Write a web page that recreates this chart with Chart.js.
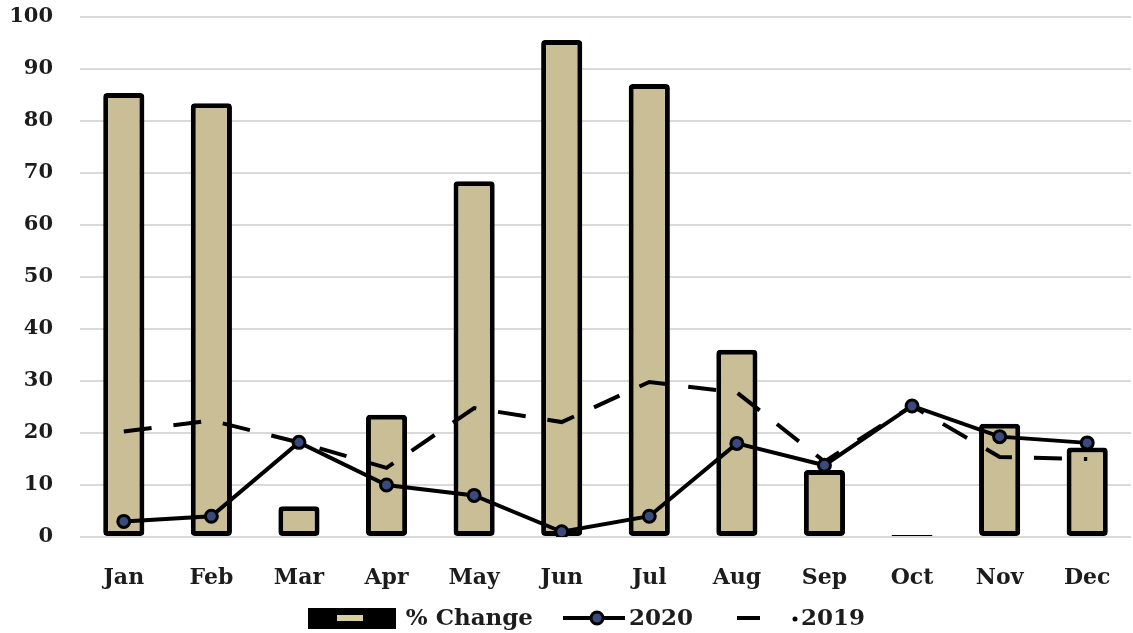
<!DOCTYPE html>
<html>
<head>
<meta charset="utf-8">
<script src="https://cdn.jsdelivr.net/npm/chart.js@4/dist/chart.umd.min.js"></script>
<style>
  html, body { margin: 0; padding: 0; background: #fff; overflow: hidden; }
  #wrap { width: 1140px; height: 633px; }
</style>
</head>
<body>
<div id="wrap"><canvas id="c" width="1140" height="633"></canvas></div>
<script>
// Monthly figures
const months = ['Jan', 'Feb', 'Mar', 'Apr', 'May', 'Jun', 'Jul', 'Aug', 'Sep', 'Oct', 'Nov', 'Dec'];
const pctChange = [85.4, 83.4, 5.9, 23.5, 68.4, 95.6, 87.1, 36, 12.9, 0.4, 21.8, 17.2];
const y2020 = [3, 4, 18.2, 10, 8, 1, 4, 18, 13.8, 25.2, 19.3, 18.1];
const y2019 = [20.3, 22.4, 18.2, 13.3, 24.8, 22.1, 29.8, 27.8, 14.5, 25.2, 15.4, 15];
const yTicks = [0, 10, 20, 30, 40, 50, 60, 70, 80, 90, 100];
const seriesNames = ['% Change', '2020', '2019'];

const FONT = '"DejaVu Serif", serif';
const INK = '#1c1c1c';
const BAR_FILL = '#c9be96';
const MARKER_FILL = '#3a4a7c';

// Legend drawn below the month labels
const bottomLegend = {
  id: 'bottomLegend',
  afterDraw(chart) {
    const ctx = chart.ctx;
    const cy = 618;
    ctx.save();
    ctx.font = 'bold 23px ' + FONT;
    ctx.fillStyle = INK;
    ctx.textBaseline = 'middle';

    // bar key
    const t0 = seriesNames[0];
    const w0 = ctx.measureText(t0).width;
    ctx.fillText(t0, 533 - w0, cy + 1);
    ctx.fillStyle = '#000';
    ctx.fillRect(308, 608, 88, 21);
    ctx.fillStyle = '#d6d09e';
    ctx.fillRect(337, 615, 26, 6);

    // 2020 key
    ctx.strokeStyle = '#000';
    ctx.lineWidth = 4;
    ctx.beginPath();
    ctx.moveTo(563, cy); ctx.lineTo(625, cy);
    ctx.stroke();
    ctx.beginPath();
    ctx.arc(597, cy, 6, 0, Math.PI * 2);
    ctx.fillStyle = MARKER_FILL;
    ctx.fill();
    ctx.lineWidth = 3;
    ctx.stroke();
    ctx.fillStyle = INK;
    ctx.fillText(seriesNames[1], 629, cy + 1);

    // 2019 key
    ctx.lineWidth = 4;
    ctx.beginPath();
    ctx.moveTo(737, cy); ctx.lineTo(760, cy);
    ctx.stroke();
    ctx.beginPath();
    ctx.arc(795, cy + 1, 2.5, 0, Math.PI * 2);
    ctx.fillStyle = '#000';
    ctx.fill();
    ctx.fillStyle = INK;
    ctx.fillText(seriesNames[2], 801, cy + 1);
    ctx.restore();
  }
};

new Chart(document.getElementById('c'), {
  data: {
    labels: months,
    datasets: [
      {
        type: 'line',
        label: seriesNames[1],
        data: y2020,
        borderColor: '#000',
        borderWidth: 4,
        pointRadius: 6,
        pointBackgroundColor: MARKER_FILL,
        pointBorderColor: '#000',
        pointBorderWidth: 3,
        tension: 0,
        order: 1
      },
      {
        type: 'line',
        label: seriesNames[2],
        data: y2019,
        borderColor: '#000',
        borderWidth: 4,
        borderDash: [28, 22],
        pointRadius: 0,
        tension: 0,
        order: 2
      },
      {
        type: 'bar',
        label: seriesNames[0],
        data: pctChange,
        backgroundColor: BAR_FILL,
        borderColor: '#000',
        borderWidth: 5,
        borderRadius: 4,
        borderSkipped: false,
        categoryPercentage: 1,
        barPercentage: 0.47,
        order: 3
      }
    ]
  },
  options: {
    responsive: false,
    animation: false,
    layout: { padding: { top: 17, left: 0, right: 0, bottom: 0 } },
    plugins: {
      legend: { display: false },
      tooltip: { enabled: false }
    },
    scales: {
      x: {
        type: 'category',
        grid: { display: false, drawTicks: false },
        border: { display: false },
        ticks: {
          padding: 28,
          color: INK,
          font: { family: FONT, size: 22, weight: 'bold' },
          maxRotation: 0
        },
        afterFit(scale) {
          scale.height = 96;
          scale.paddingLeft = 0;
          scale.paddingRight = 0;
        }
      },
      y: {
        min: 0,
        max: 100,
        grid: { color: '#dadada', lineWidth: 2, drawTicks: false },
        border: { display: false },
        afterBuildTicks(scale) { scale.ticks = yTicks.map(v => ({ value: v })); },
        ticks: {
          padding: 27,
          color: INK,
          font: { family: FONT, size: 21, weight: 'bold' }
        },
        afterFit(scale) {
          scale.width = 80;
          scale.paddingTop = 0;
          scale.paddingBottom = 0;
        }
      }
    }
  },
  plugins: [bottomLegend]
});
</script>
</body>
</html>
